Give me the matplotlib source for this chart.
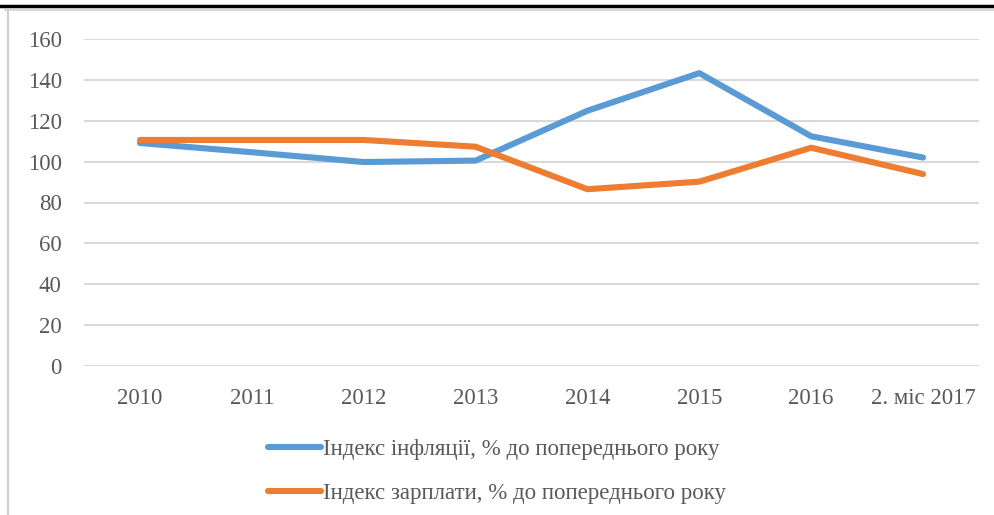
import matplotlib
matplotlib.use("Agg")
import matplotlib.pyplot as plt
from matplotlib.lines import Line2D

# дані з графіка
categories = ["2010", "2011", "2012", "2013", "2014", "2015", "2016", "2. міс 2017"]
inflation = [109.1, 104.6, 99.8, 100.5, 124.9, 143.3, 112.4, 102.0]
wages = [110.6, 110.6, 110.6, 107.3, 86.5, 90.2, 106.8, 93.9]
yticks = [0, 20, 40, 60, 80, 100, 120, 140, 160]

label_infl = "Індекс інфляції, % до попереднього року"
label_wage = "Індекс зарплати, % до попереднього року"

plt.rcParams['font.family'] = ['Liberation Serif', 'DejaVu Serif']
text_color = '#595959'
grid_color = '#D9D9D9'

fig = plt.figure(figsize=(9.95, 5.15), dpi=100)
ax = fig.add_axes([84 / 995, 1 - 366 / 515, 895 / 995, 327 / 515])

x = list(range(len(categories)))
ax.plot(x, inflation, color='#5B9BD5', lw=4.4, solid_capstyle='round',
        solid_joinstyle='round', label=label_infl, zorder=3)
ax.plot(x, wages, color='#ED7D31', lw=4.4, solid_capstyle='round',
        solid_joinstyle='round', label=label_wage, zorder=3)

ax.set_xlim(-0.5, len(categories) - 0.5)
ax.set_ylim(0, 160)
ax.set_yticks(yticks)
ax.set_xticks(x)
ax.set_xticklabels(categories)
for s in ax.spines.values():
    s.set_visible(False)
ax.yaxis.grid(True, color=grid_color, lw=1.5)
ax.set_axisbelow(True)
ax.tick_params(axis='both', length=0, labelsize=16.5, colors=text_color)
ax.tick_params(axis='y', pad=16)
ax.tick_params(axis='x', pad=15.5)

leg = fig.legend(loc='center', bbox_to_anchor=(0.5, 0.085), ncol=1, frameon=False,
                 fontsize=16.5, handlelength=2.3, handletextpad=0.1, labelspacing=1.0)
for t in leg.get_texts():
    t.set_color(text_color)

# рамка сторінки
fig.add_artist(Line2D([0, 1], [1 - 6 / 515, 1 - 6 / 515], color='black', lw=2.5))
fig.add_artist(Line2D([5 / 995, 1], [1 - 10 / 515, 1 - 10 / 515], color='#D0D0D0', lw=1.2))
fig.add_artist(Line2D([8 / 995, 8 / 995], [0, 1 - 10 / 515], color='#D0D0D0', lw=1.5))

fig.savefig("out.png", dpi=100)
